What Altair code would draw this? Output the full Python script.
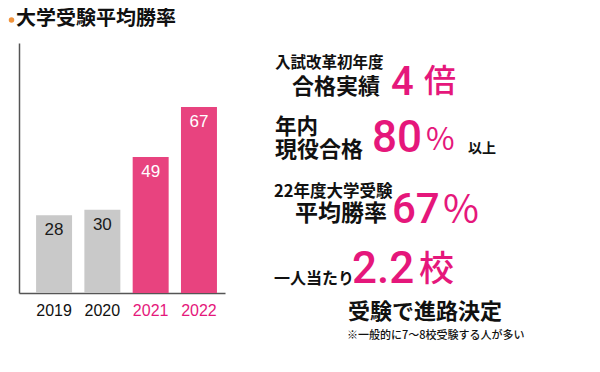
import altair as alt
import pandas as pd

years = ["2019", "2020", "2021", "2022"]
rates = [28, 30, 49, 67]
title_text = "大学受験平均勝率"

t1a = "入試改革初年度"
t1b = "合格実績"
t1n = "4"
t1u = "倍"
t2a = "年内"
t2b = "現役合格"
t2n = "80"
t2p = "%"
t2s = "以上"
t3a = "22年度大学受験"
t3b = "平均勝率"
t3n = "67"
t3p = "%"
t4a = "一人当たり"
t4n = "2.2"
t4u = "校"
t4b = "受験で進路決定"
t4note = "※一般的に7〜8校受験する人が多い"

PINK = "#E5177B"
BARPINK = "#E8437F"
GRAY = "#C9C9C9"
CJK = "Noto Sans CJK JP"
NUM = "Roboto"

df = pd.DataFrame({"year": years, "rate": rates})
df["hl"] = df["year"].astype(int) >= 2021

xscale = alt.Scale(range=[11, 217], paddingInner=0.255, paddingOuter=0.26, align=0.68)
yscale = alt.Scale(domain=[0, 90], range=[285, 35])

base = alt.Chart(df)
bars = base.mark_bar().encode(
    x=alt.X("year:N", scale=xscale, sort=years,
            axis=alt.Axis(title=None, ticks=False, labelAngle=0, labelFontSize=16,
                          labelFont="Liberation Sans", labelPadding=9,
                          labelColor=alt.expr(f"toNumber(datum.value) >= 2021 ? '{PINK}' : '#111111'"),
                          domainColor="#555555", domainWidth=1.5)),
    y=alt.Y("rate:Q", scale=yscale,
            axis=alt.Axis(title=None, ticks=False, labels=False, grid=False,
                          domainColor="#555555", domainWidth=1.5, offset=-11)),
    color=alt.Color("hl:N", scale=alt.Scale(domain=[False, True], range=[GRAY, BARPINK]), legend=None),
)
labels = base.mark_text(baseline="top", dy=7, fontSize=17, font="Liberation Sans").encode(
    x=alt.X("year:N", scale=xscale, sort=years),
    y=alt.Y("rate:Q", scale=yscale),
    text="rate:Q",
    color=alt.condition("datum.hl", alt.value("#ffffff"), alt.value("#1a1a1a")),
)

one = pd.DataFrame({"a": [0]})


def txt(s, x, y, size, color="#111111", font=CJK, weight="bold", baseline="middle"):
    return alt.Chart(one).mark_text(
        align="left", baseline=baseline, fontSize=size, font=font, fontWeight=weight, color=color
    ).encode(text=alt.value(s), x=alt.value(x), y=alt.value(y))


dot = alt.Chart(one).mark_point(filled=True, color="#F0923A", size=30, opacity=1).encode(
    x=alt.value(3.5), y=alt.value(12))

layers = [
    bars, labels, dot,
    txt(title_text, 8, 11, 20),
    txt(t1a, 267, 54.5, 15.5),
    txt(t1b, 284, 79, 22),
    txt(t1n, 383, 87, 40, PINK, NUM, 500, "alphabetic"),
    txt(t1u, 416, 74, 32, PINK, CJK, 500),
    txt(t2a, 267, 120, 21.5),
    txt(t2b, 267, 141.5, 22),
    txt(t2n, 364, 143.7, 44, PINK, NUM, 500, "alphabetic"),
    txt(t2p, 418, 142, 31, PINK, CJK, 400, "alphabetic"),
    txt(t2s, 460, 141, 14),
    txt(t3a, 266, 183.5, 16.5),
    txt(t3b, 287, 206, 23),
    txt(t3n, 384, 215, 42, PINK, NUM, 500, "alphabetic"),
    txt(t3p, 435, 215, 39, PINK, CJK, 400, "alphabetic"),
    txt(t4a, 266, 271, 16),
    txt(t4n, 344, 275.3, 44, PINK, NUM, 500, "alphabetic"),
    txt(t4u, 411, 262, 35, PINK, CJK, 500),
    txt(t4b, 340, 303.5, 22),
    txt(t4note, 339, 328, 11, "#111111", CJK, 500),
]

chart = alt.layer(*layers).properties(
    width=584, height=285,
    autosize=alt.AutoSizeParams(type="none"),
    padding={"left": 0, "top": 0, "right": 0, "bottom": 71},
).configure_view(stroke=None)

chart.save("out.html", embed_options={"renderer": "svg", "actions": False})
